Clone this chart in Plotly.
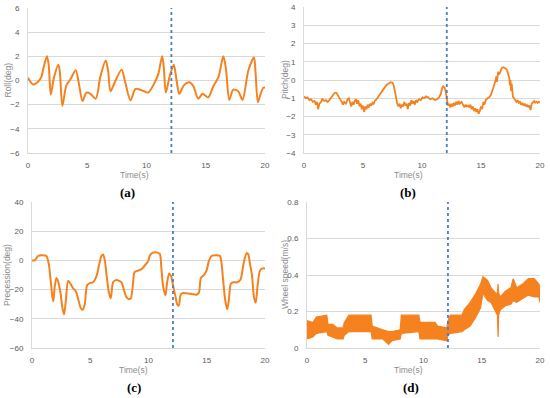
import plotly.graph_objects as go

# ---------------- data ----------------
event_time = 12.1

roll_t = [0, 0.42, 0.85, 1.13, 1.32, 1.6, 1.75, 1.92, 2.17, 2.56, 2.68, 2.9, 3.24, 3.58, 4.03, 4.3,
          4.6, 4.93, 5.27, 5.72, 6.1, 6.56, 6.76, 6.96, 7.32, 7.9, 8.17, 8.65, 9.07, 9.58, 10.14,
          10.7, 11.0, 11.32, 11.46, 11.63, 11.97, 12.3, 12.54, 12.76, 13.15, 13.6, 13.94, 14.37,
          14.73, 15.2, 15.63, 16.08, 16.48, 16.7, 16.99, 17.32, 17.75, 18.1, 18.6, 19.07, 19.2,
          19.4, 19.63, 19.86, 20]
roll_v = [0.22, -0.33, -0.1, 0.3, 1.1, 2.0, 1.25, -1.17, 0.14, 1.3, 0.8, -2.1, -0.4, 0.1, 0.85, -0.3,
          -1.7, -1.0, -1.1, -1.5, 0.3, 1.65, 0.8, -0.9, -0.15, 0.9, 0.0, -1.65, -0.7, -0.8, -1.0,
          -0.15, 0.55, 2.0, 1.1, -1.0, 0.4, 1.3, 0.0, -1.1, -0.4, -0.15, -0.45, -1.5,
          -1.1, -1.4, -0.5, 0.3, 2.0, 1.0, -1.6, -0.75, -0.9, -1.6, 0.85, 1.9, 0.7,
          -1.8, -1.1, -0.6, -0.6]

pitch_t = [0.0, 0.15, 0.3, 0.45, 0.6, 0.75, 0.9, 1.0, 1.1, 1.2, 1.3, 1.45, 1.55, 1.7, 1.85, 2.0,
           2.15, 2.3, 2.45, 2.6, 2.75, 2.9, 3.05, 3.2, 3.3, 3.4, 3.55, 3.7, 3.8, 3.9, 4.0, 4.1,
           4.2, 4.3, 4.4, 4.5, 4.6, 4.7, 4.8, 4.9, 5.0, 5.1, 5.2, 5.3, 5.4, 5.5, 5.6, 5.7, 5.8,
           5.9, 6.0, 6.15, 6.3, 6.45, 6.6, 6.75, 6.9, 7.05, 7.2, 7.35, 7.5, 7.6, 7.7, 7.8, 7.9,
           8.0, 8.1, 8.2, 8.3, 8.4, 8.5, 8.6, 8.7, 8.8, 8.9, 9.0, 9.1, 9.2, 9.3, 9.4, 9.5, 9.6,
           9.75, 9.9, 10.05, 10.2, 10.35, 10.5, 10.7, 10.9, 11.1, 11.3, 11.45, 11.6, 11.7, 11.8,
           11.9, 12.0, 12.1, 12.2, 12.3, 12.4, 12.5, 12.6, 12.7, 12.8, 12.9, 13.0, 13.1, 13.2,
           13.35, 13.5, 13.6, 13.7, 13.8, 13.9, 14.0, 14.1, 14.2, 14.3, 14.4, 14.5, 14.6, 14.7,
           14.8, 14.9, 15.0, 15.1, 15.2, 15.3, 15.4, 15.55, 15.7, 15.85, 16.0, 16.1, 16.2, 16.3,
           16.35, 16.45, 16.55, 16.65, 16.75, 16.9, 17.05, 17.2, 17.3, 17.4, 17.45, 17.5, 17.55,
           17.6, 17.7, 17.8, 17.9, 18.0, 18.1, 18.2, 18.3, 18.4, 18.5, 18.6, 18.7, 18.8, 18.9,
           19.0, 19.1, 19.2, 19.3, 19.4, 19.5, 19.6, 19.7, 19.8, 19.9, 20.0]
pitch_v = [-0.9, -1.0, -0.95, -1.1, -1.05, -1.2, -1.15, -1.35, -1.2, -1.6, -1.3, -1.2, -1.05, -1.15, -1.1, -1.2,
           -1.1, -0.95, -0.85, -0.7, -0.7, -0.85, -1.0, -1.2, -1.35, -1.2, -1.3, -1.05, -1.0, -1.2, -1.45, -1.2,
           -1.35, -1.15, -1.05, -1.3, -1.1, -1.45, -1.3, -1.6, -1.4, -1.75, -1.45, -1.6, -1.35, -1.5, -1.3, -1.4, -1.25,
           -1.3, -1.15, -1.05, -0.9, -0.75, -0.6, -0.45, -0.35, -0.25, -0.18, -0.12, -0.15, -0.3, -0.6, -1.0, -1.3,
           -1.45, -1.3, -1.55, -1.35, -1.45, -1.2, -1.4, -1.3, -1.6, -1.25, -1.4, -1.1, -1.3, -1.15, -1.35, -1.1, -1.2,
           -1.05, -1.1, -0.95, -1.0, -0.9, -0.95, -1.05, -1.0, -1.1, -1.05, -0.95, -0.75, -0.45, -0.35,
           -0.4, -0.6, -1.1, -1.4, -1.3, -1.5, -1.3, -1.45, -1.25, -1.4, -1.2, -1.35, -1.15, -1.3,
           -1.2, -1.4, -1.5, -1.35, -1.45, -1.4, -1.5, -1.35, -1.6, -1.45, -1.7, -1.55, -1.75, -1.6,
           -1.85, -1.7, -1.45, -1.6, -1.2, -1.35, -1.1, -1.0, -0.95, -0.8, -0.55, -0.3, -0.1, 0.2,
           -0.1, 0.45, 0.3, 0.55, 0.65, 0.7, 0.65, 0.55, 0.35, 0.1, -0.3, 0.0, -0.6,
           -0.2, -0.9, -1.0, -1.1, -1.2, -1.1, -1.25, -1.2, -1.35, -1.25, -1.4, -1.3, -1.45, -1.35,
           -1.5, -1.4, -1.65, -1.3, -1.2, -1.15, -1.25, -1.2, -1.25, -1.2, -1.25]

prec_t = [0, 0.23, 0.52, 0.8, 1.23, 1.43, 1.58, 1.75, 1.83, 1.95, 2.1, 2.23, 2.44, 2.6, 2.75, 2.9,
          3.1, 3.3, 3.52, 3.75, 3.95, 4.15, 4.33, 4.53, 4.73, 4.96, 5.24, 5.53, 5.76, 5.96, 6.1,
          6.25, 6.4, 6.6, 6.76, 6.96, 7.2, 7.48, 7.68, 7.88, 8.1, 8.3, 8.48, 8.68, 8.8, 9.1, 9.4,
          9.68, 9.97, 10.1, 10.3, 10.7, 10.97, 11.1, 11.26, 11.46, 11.6, 11.78, 11.95, 12.1, 12.3,
          12.46, 12.6, 12.74, 12.9, 13.26, 13.7, 14.13, 14.33, 14.5, 14.76, 14.98, 15.2, 15.4,
          15.84, 16.13, 16.27, 16.4, 16.6, 16.76, 16.9, 17.07, 17.28, 17.62, 17.9, 18.1, 18.22,
          18.43, 18.57, 18.7, 18.88, 19.05, 19.2, 19.37, 19.57, 19.77, 20]
prec_v = [0, 0, 3, 3.5, 3, -2, -12, -25, -28, -18, -12, -14, -22, -32, -37, -28,
          -14, -16, -19, -21, -26, -32, -34, -30, -17, -15.5, -15, -11, -3, 3, 4,
          0, -10, -22, -26, -15, -13.5, -14, -15, -20, -25, -26.5, -26, -15, -8, -7, -6,
          -3.5, -0.5, 3, 5, 5.5, 4.5, -5, -18, -24, -15, -9, -11, -17, -24,
          -30, -31, -24, -22.5, -22.5, -23, -23.5, -22, -12, -10, -7, 0, 3,
          3.5, 3, -2, -13, -28, -33.5, -27, -16, -15, -15, -13, -5, 0,
          5, 4, -2, -10, -25, -29, -17, -7, -5.5, -5.5]

speed_t = [0, 0.5, 0.8, 1.5, 1.7, 1.8, 2.2, 2.6, 3.1, 3.2, 3.6, 5.5, 5.6, 6.5, 7.0, 7.3, 8.0, 8.1,
           9.6, 9.7, 11.0, 11.2, 12.0, 12.1, 12.3, 13.3, 13.5, 14.0, 14.5, 14.9, 15.1, 15.5, 15.8,
           16.2, 16.35, 16.4, 16.45, 16.6, 17.0, 17.5, 17.7, 18.0, 18.5, 19.0, 19.5, 19.9, 20]
speed_low = [0.05, 0.06, 0.08, 0.09, 0.09, 0.07, 0.06, 0.05, 0.05, 0.07, 0.09, 0.09, 0.05, 0.05, 0.02, 0.04, 0.05, 0.08,
             0.09, 0.05, 0.05, 0.05, 0.04, 0.07, 0.08, 0.09, 0.10, 0.12, 0.17, 0.22, 0.30, 0.26, 0.25,
             0.20, 0.18, 0.06, 0.18, 0.21, 0.23, 0.24, 0.26, 0.25, 0.27, 0.29, 0.28, 0.28, 0.25]
speed_high = [0.15, 0.14, 0.17, 0.18, 0.18, 0.13, 0.13, 0.11, 0.11, 0.14, 0.18, 0.18, 0.12, 0.10, 0.09, 0.09, 0.10, 0.18,
              0.18, 0.14, 0.14, 0.12, 0.11, 0.15, 0.18, 0.18, 0.21, 0.25, 0.30, 0.35, 0.39, 0.37, 0.33,
              0.30, 0.30, 0.35, 0.30, 0.28, 0.31, 0.33, 0.38, 0.33, 0.35, 0.38, 0.38, 0.35, 0.33]

x_ticks = [0, 5, 10, 15, 20]
roll_ticks = [-6, -4, -2, 0, 2, 4, 6]
pitch_ticks = [-4, -3, -2, -1, 0, 1, 2, 3, 4]
prec_ticks = [-60, -40, -20, 0, 20, 40]
speed_ticks = [0, 0.2, 0.4, 0.6, 0.8]

# ---------------- style ----------------
ORANGE = "#F5821F"
BLUE = "#4A7FC8"
GRID = "#D9D9D9"
TICKFONT = dict(family="Liberation Sans", size=8, color="#595959")
TITLEFONT = dict(family="Liberation Sans", size=8.5, color="#8C8C8C")
CAPFONT = dict(family="Liberation Serif", size=13, color="#000000")

W, H = 550, 398
def fx(px): return px / W
def fy(py): return 1 - py / H

panels = [
    ("x", "y", 28, 265, 8, 153, [-6, 6], roll_ticks, "Roll(deg)", "(a)", 134, 127, 8),
    ("x2", "y2", 304, 540, 7, 153, [-4, 4], pitch_ticks, "Pitch(deg)", "(b)", 408, 408, 285),
    ("x3", "y3", 32, 265, 202, 348, [-60, 40], prec_ticks, "Precession(deg)", "(c)", 133, 134, 7),
    ("x4", "y4", 307, 540, 202, 348, [0, 0.8], speed_ticks, "Wheel speed(m/s)", "(d)", 408, 411, 285),
]

fig = go.Figure()

fig.add_trace(go.Scatter(x=roll_t, y=roll_v, mode="lines", xaxis="x", yaxis="y",
                         line=dict(color=ORANGE, width=2, shape="spline", smoothing=0.8)))
fig.add_trace(go.Scatter(x=pitch_t, y=pitch_v, mode="lines", xaxis="x2", yaxis="y2",
                         line=dict(color=ORANGE, width=1.8)))
fig.add_trace(go.Scatter(x=prec_t, y=prec_v, mode="lines", xaxis="x3", yaxis="y3",
                         line=dict(color=ORANGE, width=2, shape="spline", smoothing=0.8)))
fig.add_trace(go.Scatter(x=speed_t, y=speed_low, mode="lines", xaxis="x4", yaxis="y4",
                         line=dict(color=ORANGE, width=1.2)))
fig.add_trace(go.Scatter(x=speed_t, y=speed_high, mode="lines", xaxis="x4", yaxis="y4",
                         fill="tonexty", fillcolor=ORANGE,
                         line=dict(color=ORANGE, width=1.2)))

layout = dict(width=W, height=H, autosize=False, showlegend=False,
              margin=dict(l=0, r=0, t=0, b=0),
              paper_bgcolor="white", plot_bgcolor="white")
annotations = []
shapes = []
for xa, ya, x0, x1, yt, yb, yr, yticks, ytitle, cap, tx, cx, ytx in panels:
    xkey = "xaxis" if xa == "x" else "xaxis" + xa[1:]
    ykey = "yaxis" if ya == "y" else "yaxis" + ya[1:]
    layout[xkey] = dict(domain=[fx(x0), fx(x1)], anchor=ya, range=[0, 20],
                        tickvals=x_ticks, showgrid=False, zeroline=False,
                        showline=True, linecolor=GRID, linewidth=1, automargin=False,
                        ticks="", tickfont=TICKFONT, ticklabelstandoff=4)
    layout[ykey] = dict(domain=[fy(yb), fy(yt)], anchor=xa, range=yr,
                        tickvals=yticks, showgrid=True, gridcolor=GRID, gridwidth=1,
                        zeroline=False, showline=True, linecolor=GRID, linewidth=1,
                        automargin=False,
                        ticks="", tickfont=TICKFONT, ticklabelstandoff=6)
    annotations.append(dict(text="Time(s)", x=fx(tx), y=fy(yb + 22), xref="paper", yref="paper",
                            showarrow=False, font=TITLEFONT, xanchor="center", yanchor="middle"))
    annotations.append(dict(text="<b>%s</b>" % cap, x=fx(cx), y=fy(yb + 39), xref="paper", yref="paper",
                            showarrow=False, font=CAPFONT, xanchor="center", yanchor="middle"))
    annotations.append(dict(text=ytitle, x=fx(ytx), y=fy((yt + yb) / 2), xref="paper", yref="paper",
                            showarrow=False, font=TITLEFONT, textangle=-90,
                            xanchor="center", yanchor="middle"))
    shapes.append(dict(type="line", xref=xa, yref=ya + " domain", x0=event_time, x1=event_time,
                       y0=0, y1=1, line=dict(color=BLUE, width=1.8, dash="dot")))

layout["annotations"] = annotations
layout["shapes"] = shapes
fig.update_layout(**layout)
fig.write_html("out.html", config={"displayModeBar": False},
               post_script="document.body.style.margin='0px';document.body.style.overflow='hidden';")
